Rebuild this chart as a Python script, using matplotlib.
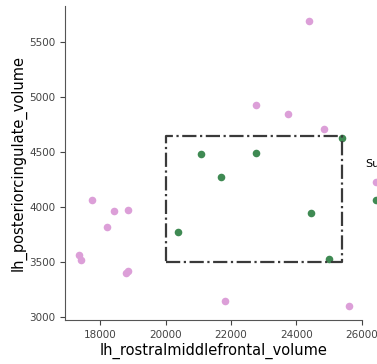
import matplotlib
matplotlib.use('Agg')
import matplotlib.pyplot as plt

# points outside the selection box
other_x = [17747, 18437, 18846, 18205, 17350, 17420, 18846, 18803,
           24382, 22773, 23750, 24830, 21817, 25612]
other_y = [4066, 3964, 3973, 3821, 3561, 3518, 3421, 3397,
           5688, 4924, 4848, 4709, 3145, 3097]

# points inside the selection box
sel_x = [20372, 21093, 22773, 21695, 24443, 24992, 25380]
sel_y = [3776, 4482, 4494, 4273, 3945, 3530, 4624]

# selection box corners
box_x = [20000, 25400, 25400, 20000, 20000]
box_y = [3500, 3500, 4645, 4645, 3500]

fig = plt.figure(figsize=(3.77, 3.64), dpi=100)
ax = fig.add_axes([0.1724, 0.1209, 0.7878, 0.8626])

ax.scatter(other_x, other_y, s=30, color='#dc9fd8', label='Other', linewidths=0)
ax.scatter(sel_x, sel_y, s=30, color='#3f8a53', label='Selected', linewidths=0)
ax.plot(box_x, box_y, linestyle='-.', color='#3a3a3a', linewidth=1.6)

ax.set_xlim(16931, 26000)
ax.set_ylim(2973, 5827)
ax.set_xticks([18000, 20000, 22000, 24000, 26000])
ax.set_yticks([3000, 3500, 4000, 4500, 5000, 5500])
ax.tick_params(labelsize=7.5, colors='#444444')
for s in ['top', 'right']:
    ax.spines[s].set_visible(False)
for s in ['left', 'bottom']:
    ax.spines[s].set_color('#555555')

ax.set_xlabel('lh_rostralmiddlefrontal_volume', fontsize=10.5, labelpad=2)
ax.set_ylabel('lh_posteriorcingulate_volume', fontsize=10.5, labelpad=2)

fig.legend(loc='upper left', bbox_to_anchor=(365 / 377, 1 - 159 / 364),
           frameon=False, title='Subset', fontsize=8, title_fontsize=8,
           alignment='left', labelspacing=0.7, borderpad=0,
           borderaxespad=0, handletextpad=0.6)

fig.savefig('out.png', dpi=100)
